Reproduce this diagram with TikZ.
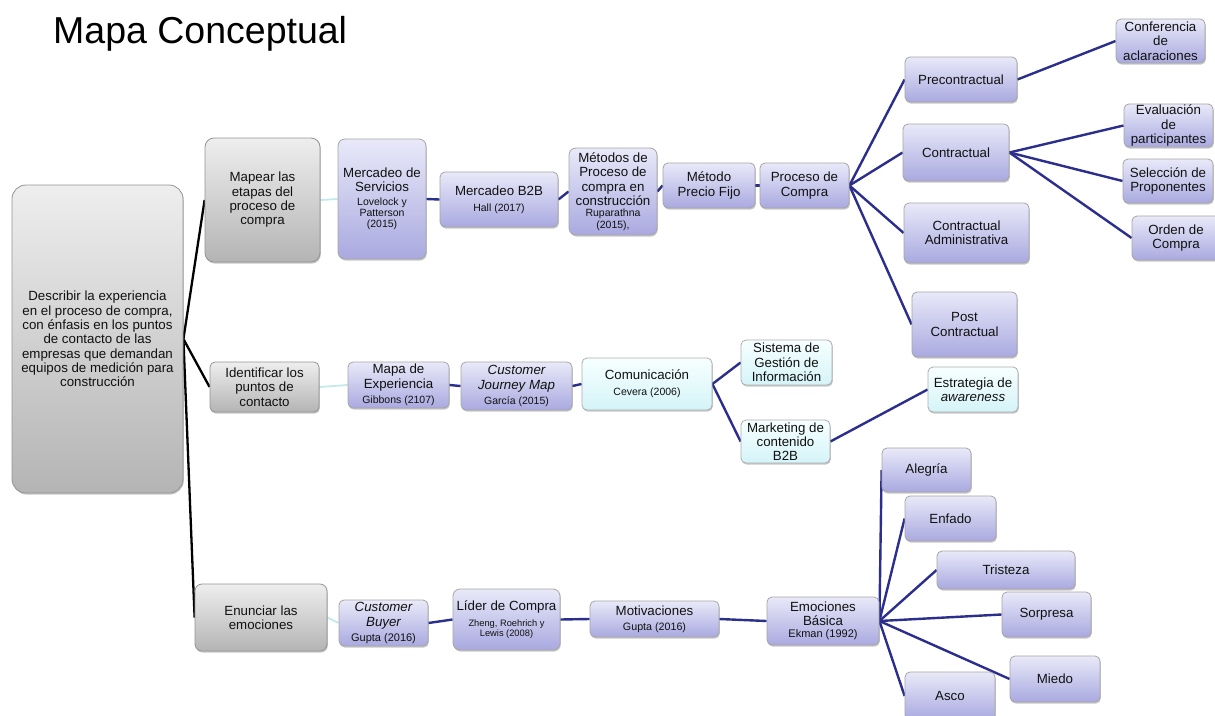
\documentclass[tikz,border=0pt]{standalone}
\usepackage{fontspec}
\setmainfont{Liberation Sans}
\usetikzlibrary{shadows,backgrounds}

\definecolor{navy}{HTML}{2B2E8C}
\definecolor{pTop}{HTML}{E9E9F9}
\definecolor{pBot}{HTML}{A9A9E0}
\definecolor{gTop}{HTML}{EEEEEE}
\definecolor{gBot}{HTML}{B4B4B4}
\definecolor{cTop}{HTML}{F7FFFF}
\definecolor{cBot}{HTML}{D4F4F8}
\definecolor{lcyan}{HTML}{C4E9EA}
\definecolor{ink}{HTML}{111111}

\newcommand{\msz}{\fontsize{13.3}{14.3}\selectfont}
\newcommand{\rsz}{\fontsize{10.5}{11.5}\selectfont}

\tikzset{
  basebox/.style={rounded corners=5pt, line width=0.8pt, align=center,
    inner sep=1pt, text=ink, font=\msz,
    drop shadow={shadow xshift=0.8pt, shadow yshift=-1.6pt, opacity=0.22, fill=black}},
  gbox/.style={basebox, top color=gTop, bottom color=gBot, draw=black!42},
  pbox/.style={basebox, top color=pTop, bottom color=pBot, draw=black!35},
  cbox/.style={basebox, top color=cTop, bottom color=cBot, draw=black!32},
  wh/.style 2 args={minimum width=#1 pt, minimum height=#2 pt},
  blk/.style={line width=2.3pt, black},
  nav/.style={line width=2.4pt, navy},
  lc/.style={line width=1.8pt, lcyan},
}

\begin{document}
\begin{tikzpicture}[x=1pt, y=-1pt]
\useasboundingbox (0,0) rectangle (1215,715);
\clip (0,0) rectangle (1215,715);

% title
\node[anchor=base west, inner sep=0pt, text=black,
      font=\fontsize{37.5}{40}\selectfont] (title) at (53,43) {Mapa Conceptual};

% grey goal boxes
\node[gbox, wh={171}{308}, rounded corners=14pt] (root) at (97.5,339)
  {Describir la experiencia\\en el proceso de compra,\\con énfasis en los puntos\\de contacto de las\\empresas que demandan\\equipos de medición para\\construcción};
\node[gbox, wh={115}{124}, rounded corners=9pt] (mapear) at (262.5,200)
  {Mapear las\\etapas del\\proceso de\\compra};
\node[gbox, wh={109}{50}] (ident) at (264.5,387)
  {Identificar los\\puntos de\\contacto};
\node[gbox, wh={132}{67}, rounded corners=7pt] (enun) at (261,617.5)
  {Enunciar las\\emociones};

% upper branch
\node[pbox, wh={88}{120}, rounded corners=7pt] (mserv) at (382,199)
  {Mercadeo de\\Servicios\\[-1pt]{\rsz Lovelock y}\\[-3pt]{\rsz Patterson}\\[-3pt]{\rsz (2015)}};
\node[pbox, wh={118}{55}] (mb2b) at (499,199.5)
  {Mercadeo B2B\\[2pt]{\rsz Hall (2017)}};
\node[pbox, wh={88}{87}, rounded corners=7pt] (metodos) at (613,191.5)
  {Métodos de\\Proceso de\\compra en\\construcción\\[-3pt]{\rsz Ruparathna}\\[-3pt]{\rsz (2015),}};
\node[pbox, wh={92}{45}] (precio) at (709,185.5) {Método\\Precio Fijo};
\node[pbox, wh={89}{45}] (proceso) at (804.5,185.5) {Proceso de\\Compra};

\node[pbox, wh={112}{45}] (precon) at (961,79.5) {Precontractual};
\node[pbox, wh={106}{57}] (contr) at (956,152.5) {Contractual};
\node[pbox, wh={125}{60}] (cadm) at (966.5,233) {Contractual\\Administrativa};
\node[pbox, wh={105}{65}] (post) at (964.5,324.5) {Post\\Contractual};

\node[pbox, wh={89}{44}] (conf) at (1160.5,41) {Conferencia\\de\\aclaraciones};
\node[pbox, wh={89}{43}] (eval) at (1168.5,125.5) {Evaluación\\de\\participantes};
\node[pbox, wh={90}{44}] (selec) at (1168,181) {Selección de\\Proponentes};
\node[pbox, wh={88}{44}] (orden) at (1176,238) {Orden de\\Compra};

% middle branch
\node[pbox, wh={101}{46}] (mapaexp) at (398.5,385)
  {Mapa de\\Experiencia\\[1pt]{\rsz Gibbons (2107)}};
\node[pbox, wh={111}{48}] (cjm) at (516.5,386)
  {{\itshape Customer}\\{\itshape Journey Map}\\[1pt]{\rsz García (2015)}};
\node[cbox, wh={130}{52}] (comun) at (647,384)
  {Comunicación\\[2pt]{\rsz Cevera (2006)}};
\node[cbox, wh={91}{45}] (sist) at (786.5,362.5) {Sistema de\\Gestión de\\Información};
\node[cbox, wh={89}{43}] (mkt) at (785.5,441.5) {Marketing de\\contenido\\B2B};
\node[cbox, wh={90}{45}] (estr) at (973,389.5) {Estrategia de\\{\itshape awareness}};

% lower branch
\node[pbox, wh={89}{46}] (cbuyer) at (383.5,623)
  {{\itshape Customer}\\{\itshape Buyer}\\[1pt]{\fontsize{11}{12}\selectfont Gupta (2016)}};
\node[pbox, wh={107}{61}, rounded corners=7pt] (lider) at (506.5,619.5)
  {Líder de Compra\\[2pt]{\fontsize{9.3}{10}\selectfont Zheng, Roehrich y}\\[-4pt]{\fontsize{9.3}{10}\selectfont Lewis (2008)}};
\node[pbox, wh={129}{36}] (motiv) at (654.5,619)
  {Motivaciones\\[1pt]{\fontsize{10.7}{11.5}\selectfont Gupta (2016)}};
\node[pbox, wh={112}{48}] (emoc) at (823,621)
  {Emociones\\Básica\\[-2pt]{\fontsize{11}{12}\selectfont Ekman (1992)}};

\node[pbox, wh={89}{44}] (alegria) at (926.5,470) {Alegría};
\node[pbox, wh={91}{45}] (enfado) at (950.5,518.5) {Enfado};
\node[pbox, wh={138}{38}] (tristeza) at (1006,570) {Tristeza};
\node[pbox, wh={89}{45}] (sorpresa) at (1046.5,614.5) {Sorpresa};
\node[pbox, wh={90}{46}] (miedo) at (1055,679) {Miedo};
\node[pbox, wh={90}{48}] (asco) at (950,696) {Asco};

% connectors, drawn beneath the boxes
\begin{scope}[on background layer]
  \fill[white] (0,0) rectangle (1215,715);
  \draw[blk] (root.east) -- (mapear.west);
  \draw[blk] (root.east) -- (ident.west);
  \draw[blk] (root.east) -- (enun.west);

  \draw[lc] (mapear.east) -- (mserv.west);
  \draw[lc] (ident.east) -- (mapaexp.west);
  \draw[lc] (enun.east) -- (cbuyer.west);

  \draw[nav] (mserv.east) -- (mb2b.west);
  \draw[nav] (mb2b.east) -- (metodos.west);
  \draw[nav] (metodos.east) -- (precio.west);
  \draw[nav] (precio.east) -- (proceso.west);
  \foreach \t in {precon,contr,cadm,post}
    \draw[nav] (proceso.east) -- (\t.west);
  \draw[nav] (precon.east) -- (conf.west);
  \foreach \t in {eval,selec,orden}
    \draw[nav] (contr.east) -- (\t.west);

  \draw[nav] (mapaexp.east) -- (cjm.west);
  \draw[nav] (cjm.east) -- (comun.west);
  \draw[nav] (comun.east) -- (sist.west);
  \draw[nav] (comun.east) -- (mkt.west);
  \draw[nav] (mkt.east) -- (estr.west);

  \draw[nav] (cbuyer.east) -- (lider.west);
  \draw[nav] (lider.east) -- (motiv.west);
  \draw[nav] (motiv.east) -- (emoc.west);
  \foreach \t in {alegria,enfado,tristeza,sorpresa,miedo,asco}
    \draw[nav] (emoc.east) -- (\t.west);
\end{scope}
\end{tikzpicture}
\end{document}
